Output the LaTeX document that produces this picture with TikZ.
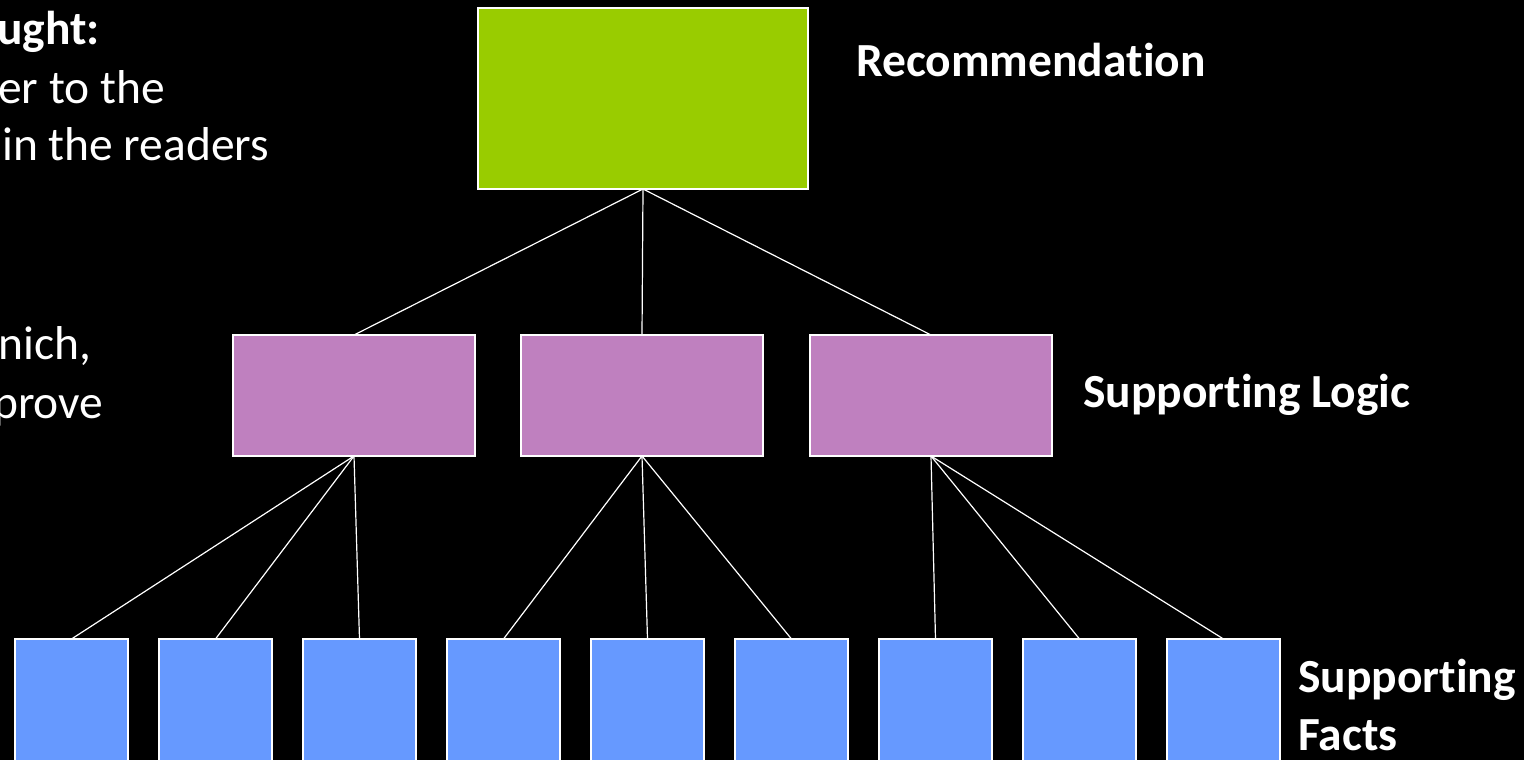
\documentclass[tikz,border=0pt]{standalone}
\usepackage{fontspec}
\setmainfont{Carlito}[Ligatures=NoCommon]
\begin{document}
\begin{tikzpicture}[x=1pt,y=-1pt,
  box/.style={draw=white,line width=1.4pt,inner sep=0pt,outer sep=0pt,rectangle},
  recbox/.style={box,fill=recgreen,minimum width=330pt,minimum height=181pt},
  logicbox/.style={box,fill=logicpurple,minimum width=242pt,minimum height=121pt},
  factbox/.style={box,fill=factblue,minimum width=113pt,minimum height=140pt},
  link/.style={draw=white,line width=1.2pt},
  label/.style={text=white,anchor=base west,inner sep=0pt,font=\fontsize{47.5}{58}\selectfont\bfseries},
  body/.style={text=white,anchor=base west,inner sep=0pt,font=\fontsize{47.5}{58}\selectfont}]
\definecolor{recgreen}{HTML}{99CC00}
\definecolor{logicpurple}{HTML}{BF80BF}
\definecolor{factblue}{HTML}{6699FF}
\useasboundingbox (0,0) rectangle (1524,760);
\fill[black] (0,0) rectangle (1524,760);
\clip (0,0) rectangle (1524,760);

% left-hand text column, running off the page edge
\node[body,font=\fontsize{47.5}{58}\selectfont\bfseries] (t1) at (-3,45) {ught:};
\node[body] (t2) at (-2,103) {er to the};
\node[body] (t3) at (2,160) {in the readers};
\node[body] (t4) at (-2,359) {nich,};
\node[body] (t5) at (-7,418) {prove};

% pyramid: recommendation
\node[recbox,anchor=north west] (rec) at (478,8) {};

% supporting logic
\node[logicbox,anchor=north west] (l1) at (233,335) {};
\node[logicbox,anchor=north west] (l2) at (521,335) {};
\node[logicbox,anchor=north west] (l3) at (810,335) {};

% supporting facts
\foreach \i in {1,...,9}{
  \node[factbox,anchor=north west] (f\i) at ({15+144*(\i-1)},639) {};
}

% connectors
\foreach \l in {l1,l2,l3}{
  \draw[link] (rec.south) -- (\l.north);
}
\draw[link] (l1.south) -- (f1.north);
\draw[link] (l1.south) -- (f2.north);
\draw[link] (l1.south) -- (f3.north);
\draw[link] (l2.south) -- (f4.north);
\draw[link] (l2.south) -- (f5.north);
\draw[link] (l2.south) -- (f6.north);
\draw[link] (l3.south) -- (f7.north);
\draw[link] (l3.south) -- (f8.north);
\draw[link] (l3.south) -- (f9.north);

% level labels
\node[label] (reclabel) at (856,77) {Recommendation};
\node[label] (logiclabel) at (1083,407) {Supporting Logic};
\node[label] (factlabel1) at (1298,692) {Supporting};
\node[label] (factlabel2) at (1298,750) {Facts};
\end{tikzpicture}
\end{document}
